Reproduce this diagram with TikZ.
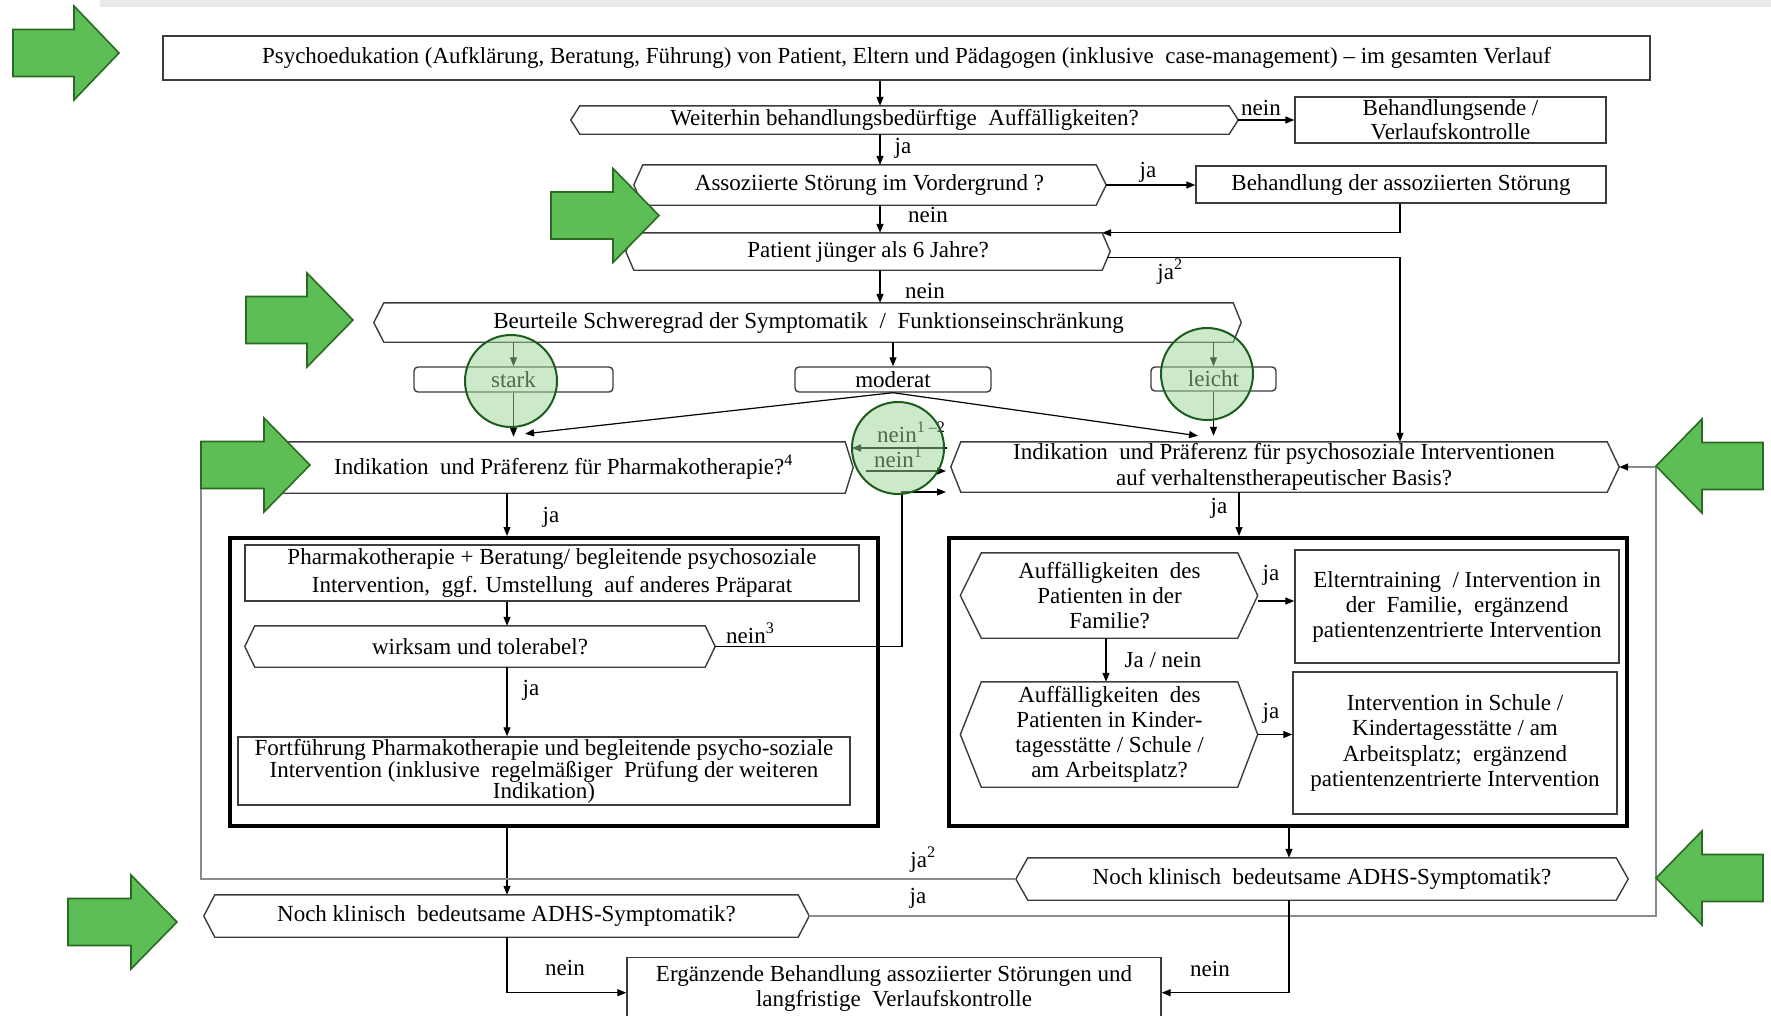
\documentclass[tikz,border=0pt]{standalone}
\usepackage{fontspec}
\setmainfont{Liberation Serif}
\usetikzlibrary{arrows.meta,calc}
\definecolor{boxc}{HTML}{3C3C3C}
\definecolor{loopc}{HTML}{8A8A8A}
\definecolor{gfill}{HTML}{5CBE55}
\definecolor{gline}{HTML}{2A6A22}
\definecolor{cfill}{HTML}{9AD695}
\definecolor{cline}{HTML}{1E5C1E}
\definecolor{bandc}{HTML}{E9E9E9}
\newcommand\fs{\fontsize{23}{27}\selectfont}
\newcommand\fsl[1]{\fontsize{23}{#1}\selectfont}
% hexagonal decision outline around a node: #2 left point depth, #3 right point depth
\newcommand\hexa[3]{\draw[hexline] (#1.north west) -- (#1.north east) -- ($(#1.east)+(#3,0)$) -- (#1.south east) -- (#1.south west) -- ($(#1.west)+(-#2,0)$) -- cycle;}
% big green block arrow: tail x, head base x, tip x, centre y
\newcommand\garrow[4]{\filldraw[garr] (#1,#4-23.5) -- (#2,#4-23.5) -- (#2,#4-47) -- (#3,#4) -- (#2,#4+47) -- (#2,#4+23.5) -- (#1,#4+23.5) -- cycle;}
\begin{document}
\begin{tikzpicture}[x=1pt,y=-1pt,
  box/.style={draw=boxc,line width=1.4pt,inner sep=0pt,align=center,font=\fs},
  heavybox/.style={draw=black,line width=4pt,inner sep=0pt},
  hexn/.style={inner sep=0pt,align=center,font=\fs},
  hexline/.style={draw=boxc,line width=1.4pt,line join=miter},
  tag/.style={draw=boxc,line width=1.4pt,rounded corners=4pt,inner sep=0pt,font=\fs},
  arr/.style={-{Triangle[length=9pt,width=7pt]},line width=1.2pt,draw=black},
  looparr/.style={-{Triangle[length=9pt,width=7pt,color=black]},line width=1.4pt,draw=loopc},
  lab/.style={font=\fs,inner sep=0pt,anchor=base},
  garr/.style={fill=gfill,draw=gline,line width=1.6pt,line join=miter},
  gcirc/.style={fill=cfill,fill opacity=0.5,draw=cline,line width=2pt},
]
\useasboundingbox (0,0) rectangle (1771,1015);
\fill[bandc] (100,0) rectangle (1771,7);

% guide lines for vertical connectors
\coordinate (gA) at (880,0);
\coordinate (gB) at (1400,0);
\coordinate (gM1) at (525,0);
\coordinate (gM2) at (1198,0);
\coordinate (gL) at (507,0);
\coordinate (gR) at (1239,0);
\coordinate (gS) at (1289,0);
\coordinate (gF) at (1106,0);
\coordinate (gLoopL) at (201,700);
\coordinate (gLoopR) at (1656,700);
\coordinate (n3a) at (902,492);
\coordinate (n3b) at (946,492);
\coordinate (q1a) at (947,448);
\coordinate (q1b) at (852,448);
\coordinate (q2a) at (866,471);
\coordinate (q2b) at (946,471);

% ---- top part
\node[box,minimum width=1487,minimum height=44] (n1) at (906.5,58)
  {Psychoedukation (Aufklärung, Beratung, Führung) von Patient, Eltern und Pädagogen (inklusive\ \ case-management) – im gesamten Verlauf};
\node[hexn,minimum width=649,minimum height=28] (n2) at (904.5,120) {Weiterhin behandlungsbedürftige\ \ Auffälligkeiten?};
\hexa{n2}{9}{9}
\node[box,minimum width=311,minimum height=46,font=\fsl{24}] (n3) at (1450.5,120) {Behandlungsende /\\Verlaufskontrolle};
\node[hexn,minimum width=453,minimum height=40] (n4) at (869.5,185) {Assoziierte Störung im Vordergrund ?};
\hexa{n4}{9}{10}
\node[box,minimum width=410,minimum height=37] (n5) at (1401,184.5) {Behandlung der assoziierten Störung};
\node[hexn,minimum width=468,minimum height=37] (n6) at (868,251.5) {Patient jünger als 6 Jahre?};
\hexa{n6}{8}{8}
\node[hexn,minimum width=849,minimum height=39] (n7) at (808.5,322.5) {Beurteile Schweregrad der Symptomatik\ \ /\ \ Funktionseinschränkung};
\hexa{n7}{10}{8}
\node[tag,minimum width=199,minimum height=25] (stark) at (513.5,379.5) {stark};
\node[tag,minimum width=196,minimum height=25] (moderat) at (893,379.5) {moderat};
\node[tag,minimum width=125,minimum height=24] (leicht) at (1213.5,379) {leicht};
\node[hexn,minimum width=563,minimum height=51] (n8) at (563.5,467.5) {Indikation\ \ und Präferenz für Pharmakotherapie?\textsuperscript{4}};
\hexa{n8}{8}{8}
\node[hexn,minimum width=646,minimum height=50,font=\fsl{26}] (n9) at (1284,467) {Indikation\ \ und Präferenz für psychosoziale Interventionen\\auf verhaltenstherapeutischer Basis?};
\hexa{n9}{10}{12}

% ---- pharmacotherapy branch
\node[heavybox,minimum width=648,minimum height=288] (lbox) at (554,682) {};
\node[box,minimum width=614,minimum height=56,font=\fsl{28}] (b1) at (552,573)
  {Pharmakotherapie + Beratung/ begleitende psychosoziale\\Intervention,\ \ ggf. Umstellung\ \ auf anderes Präparat};
\node[hexn,minimum width=450,minimum height=41] (b2) at (480,646.5) {wirksam und tolerabel?};
\hexa{b2}{10}{10}
\node[box,minimum width=612,minimum height=68,font=\fsl{21}] (b3) at (544,771)
  {Fortführung Pharmakotherapie und begleitende psycho-soziale\\Intervention (inklusive\ \ regelmäßiger\ \ Prüfung der weiteren\\Indikation)};

% ---- psychosocial branch
\node[heavybox,minimum width=678,minimum height=288] (rbox) at (1288,682) {};
\node[hexn,minimum width=256,minimum height=85,font=\fsl{25}] (r1) at (1109.5,595.5)
  {Auffälligkeiten\ \ des\\Patienten in der\\Familie?};
\hexa{r1}{21}{20}
\node[box,minimum width=324,minimum height=113,font=\fsl{25}] (r2) at (1457,606.5)
  {Elterntraining\ \ / Intervention in\\der\ \ Familie,\ \ ergänzend\\patientenzentrierte Intervention};
\node[hexn,minimum width=256,minimum height=105,font=\fsl{25}] (r3) at (1109.5,734.5)
  {Auffälligkeiten\ \ des\\Patienten in Kinder-\\tagesstätte / Schule /\\am Arbeitsplatz?};
\hexa{r3}{21}{20}
\node[box,minimum width=324,minimum height=142,font=\fsl{25.3}] (r4) at (1455,743)
  {Intervention in Schule /\\Kindertagesstätte / am\\Arbeitsplatz;\ \ ergänzend\\patientenzentrierte Intervention};

% ---- bottom part
\node[hexn,minimum width=583,minimum height=42] (n11) at (506.5,916) {Noch klinisch\ \ bedeutsame ADHS-Symptomatik?};
\hexa{n11}{11}{11}
\node[hexn,minimum width=588,minimum height=42] (n12) at (1322,879) {Noch klinisch\ \ bedeutsame ADHS-Symptomatik?};
\hexa{n12}{12}{12}
\node[box,minimum width=534,minimum height=82,anchor=north] (n13) at (894,957) {};
\node[hexn,font=\fsl{25}] (n13t) at (894,988)
  {Ergänzende Behandlung assoziierter Störungen und\\langfristige\ \ Verlaufskontrolle};

% ---- connectors
\draw[arr] (n1.south -| gA) -- (n2.north -| gA);
\draw[arr] ($(n2.east)+(9,0)$) -- (n3.west);
\node[lab] (l1) at (1261,115) {nein};
\draw[arr] (n2.south -| gA) -- (n4.north -| gA);
\node[lab] (l2) at (903,153) {ja};
\draw[arr] ($(n4.east)+(10,0)$) -- (n5.west |- n4.east);
\node[lab] (l3) at (1148,177) {ja};
\draw[arr] (n4.south -| gA) -- (n6.north -| gA);
\node[lab] (l4) at (928,222) {nein};
\draw[arr] (n5.south -| gB) |- (n6.north east);
\draw[arr] ($(n6.east)+(5,6)$) -| (n9.north -| gB);
\node[lab] (l5) at (1170,279) {ja\textsuperscript{2}};
\draw[arr] (n6.south -| gA) -- (n7.north -| gA);
\node[lab] (l6) at (925,298) {nein};
\draw[arr] (n7.south -| stark.north) -- (stark.north);
\draw[arr] (n7.south -| moderat.north) -- (moderat.north);
\draw[arr] (n7.south -| leicht.north) -- (leicht.north);
\draw[arr] (stark.south) -- ($(n8.north -| stark.south)+(0,-5)$);
\draw[arr] (moderat.south) -- ($(n8.north -| gM1)+(0,-8)$);
\draw[arr] (moderat.south) -- ($(n9.north -| gM2)+(0,-6)$);
\draw[arr] (leicht.south) -- ($(n9.north -| leicht.south)+(0,-6)$);

% exchange between the two indication questions
\draw[arr] (q1a) -- (q1b);
\node[lab,anchor=base west] (l7) at (877,442) {nein\textsuperscript{1 –2}};
\draw[arr] (q2a) -- (q2b);
\node[lab,anchor=base west] (l8) at (874,467) {nein\textsuperscript{1}};

% pharmacotherapy branch
\draw[arr] (n8.south -| gL) -- (lbox.north -| gL);
\node[lab] (l9) at (551,522) {ja};
\draw[arr] (b1.south -| gL) -- (b2.north -| gL);
\draw[arr] (b2.south -| gL) -- (b3.north -| gL);
\node[lab] (l10) at (531,695) {ja};
\draw[arr] ($(b2.east)+(10,0)$) -| (n3a) -- (n3b);
\node[lab,anchor=base west] (l11) at (726,643) {nein\textsuperscript{3}};
\draw[arr] (lbox.south -| gL) -- (n11.north -| gL);

% psychosocial branch
\draw[arr] (n9.south -| gR) -- (rbox.north -| gR);
\node[lab] (l12) at (1219,513) {ja};
\draw[arr] ($(r1.east)+(20,5.5)$) -- (r2.west |- 0,601);
\node[lab] (l13) at (1271,580) {ja};
\draw[arr] (r1.south -| gF) -- (r3.north -| gF);
\node[lab] (l14) at (1163,667) {Ja / nein};
\draw[arr] ($(r3.east)+(20,0)$) -- (r4.west |- r3.east);
\node[lab] (l15) at (1271,718) {ja};
\draw[arr] (rbox.south -| gS) -- (n12.north -| gS);

% return loops
\draw[looparr] ($(n12.west)+(-12,0)$) -| (gLoopL) |- ($(n8.west)+(-8,0)$);
\node[lab] (l16) at (923,867) {ja\textsuperscript{2}};
\draw[looparr] ($(n11.east)+(11,0)$) -| (gLoopR) |- ($(n9.east)+(12,0)$);
\node[lab] (l17) at (918,903) {ja};

% end of treatment
\draw[arr] (n11.south -| gL) |- ($(n13.west)+(0,-6)$);
\node[lab] (l18) at (565,975) {nein};
\draw[arr] (n12.south -| gS) |- ($(n13.east)+(0,-6)$);
\node[lab] (l19) at (1210,976) {nein};

% ---- highlights
\draw[gcirc] (511,381) circle[radius=46pt];
\draw[gcirc] (1207,374) circle[radius=46pt];
\draw[gcirc] (898,448) circle[radius=46pt];
\garrow{13}{74}{119}{53}
\garrow{551}{613}{659}{215.5}
\garrow{246}{307}{353}{320}
\garrow{201}{264}{310}{465}
\garrow{68}{131}{177}{922}
\garrow{1763}{1702}{1656}{466}
\garrow{1763}{1702}{1656}{878}
\end{tikzpicture}
\end{document}
